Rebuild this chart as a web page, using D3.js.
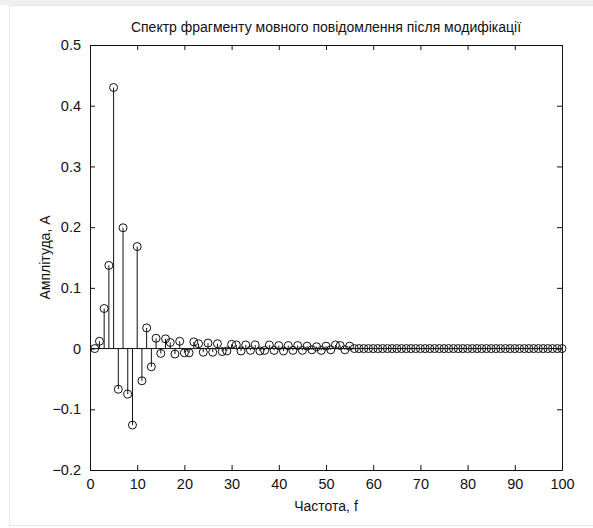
<!DOCTYPE html>
<html lang="uk">
  <head>
    <meta charset="UTF-8" />
    <title>Спектр фрагменту мовного повідомлення</title>
    <script src="https://d3js.org/d3.v7.min.js"></script>
  </head>
  <style>
    body {
      margin: 0;
      background: #fff;
    }

    svg {
      display: block;
    }

    text {
      font-family: "Liberation Sans Narrow", "Arial Narrow", "Liberation Sans", sans-serif;
      fill: #111;
    }

    .axis text {
      font-size: 14.5px;
    }

    circle.marker {
      fill: none;
      stroke: #111;
      stroke-width: 1px;
    }

    line.stem {
      stroke: #111;
      stroke-width: 1px;
    }
  </style>
  <body>
    <div id="viz"></div>
    <script>
      // амплітуди для f = 1..55, далі нулі до f = 100
      var amplitudes = [
        0, 0.012, 0.066, 0.137, 0.43, -0.067, 0.199, -0.075, -0.126, 0.168,
        -0.053, 0.034, -0.03, 0.017, -0.008, 0.016, 0.01, -0.009, 0.012, -0.007,
        -0.007, 0.011, 0.008, -0.006, 0.009, -0.006, 0.008, -0.005, -0.004, 0.007,
        0.006, -0.004, 0.006, -0.003, 0.006, -0.004, -0.003, 0.006, -0.003, 0.005,
        -0.004, 0.005, -0.003, 0.005, -0.003, 0.004, -0.002, 0.003, -0.003, 0.004,
        -0.002, 0.006, 0.005, -0.002, 0.004
      ];
      var frequencies = d3.range(1, 101);
      var values = frequencies.map(function (f, i) {
        return i < amplitudes.length ? amplitudes[i] : 0;
      });
      var xTicks = [0, 10, 20, 30, 40, 50, 60, 70, 80, 90, 100];
      var yTicks = [-0.2, -0.1, 0, 0.1, 0.2, 0.3, 0.4, 0.5];

      var width = 593, height = 528;
      var mLeft = 90, mRight = 562, mTop = 45, mBottom = 470;

      var svg = d3.select("#viz").append("svg")
        .attr("width", width)
        .attr("height", height);

      // рамка скріншота
      svg.append("rect")
        .attr("x", 0).attr("y", 0)
        .attr("width", width).attr("height", 5)
        .attr("fill", "#eef0ef");
      svg.append("rect")
        .attr("x", 9.5).attr("y", 5.5)
        .attr("width", width).attr("height", 520)
        .attr("fill", "none")
        .attr("stroke", "#e6e6e6");

      var x = d3.scaleLinear().domain([0, 100]).range([mLeft, mRight]);
      var y = d3.scaleLinear().domain([-0.2, 0.5]).range([mBottom, mTop]);

      var fmt = function (d) { return d3.format("")(+d.toFixed(1)); };

      svg.append("g").attr("class", "axis")
        .attr("transform", "translate(0," + mBottom + ")")
        .call(d3.axisBottom(x).tickValues(xTicks).tickSizeInner(-5).tickSizeOuter(0).tickPadding(9));
      svg.append("g").attr("class", "axis")
        .attr("transform", "translate(0," + mTop + ")")
        .call(d3.axisTop(x).tickValues(xTicks).tickSizeInner(-5).tickSizeOuter(0).tickFormat(""));
      svg.append("g").attr("class", "axis")
        .attr("transform", "translate(" + mLeft + ",0)")
        .call(d3.axisLeft(y).tickValues(yTicks).tickSizeInner(-5).tickSizeOuter(0).tickPadding(9).tickFormat(fmt));
      svg.append("g").attr("class", "axis")
        .attr("transform", "translate(" + mRight + ",0)")
        .call(d3.axisRight(y).tickValues(yTicks).tickSizeInner(-5).tickSizeOuter(0).tickFormat(""));

      svg.selectAll(".axis .domain").attr("stroke", "#111");
      svg.selectAll(".axis line").attr("stroke", "#111");
      svg.selectAll(".axis text").attr("fill", "#111");

      // базова лінія
      svg.append("line")
        .attr("x1", x(0)).attr("x2", x(100))
        .attr("y1", y(0)).attr("y2", y(0))
        .attr("stroke", "#111");

      var stems = svg.append("g").selectAll("g")
        .data(frequencies)
        .enter()
        .append("g");

      stems.append("line")
        .attr("class", "stem")
        .attr("x1", function (d) { return x(d); })
        .attr("x2", function (d) { return x(d); })
        .attr("y1", y(0))
        .attr("y2", function (d, i) { return y(values[i]); });

      stems.append("circle")
        .attr("class", "marker")
        .attr("cx", function (d) { return x(d); })
        .attr("cy", function (d, i) { return y(values[i]); })
        .attr("r", 4);

      svg.append("text")
        .attr("x", (mLeft + mRight) / 2)
        .attr("y", 32)
        .attr("text-anchor", "middle")
        .style("font-size", "14px")
        .text("Спектр фрагменту мовного повідомлення після модифікації");

      svg.append("text")
        .attr("x", (mLeft + mRight) / 2)
        .attr("y", 511)
        .attr("text-anchor", "middle")
        .style("font-size", "14px")
        .text("Частота, f");

      svg.append("text")
        .attr("transform", "translate(50," + ((mTop + mBottom) / 2) + ") rotate(-90)")
        .attr("text-anchor", "middle")
        .style("font-size", "14px")
        .text("Амплітуда, A");
    </script>
  </body>
</html>
